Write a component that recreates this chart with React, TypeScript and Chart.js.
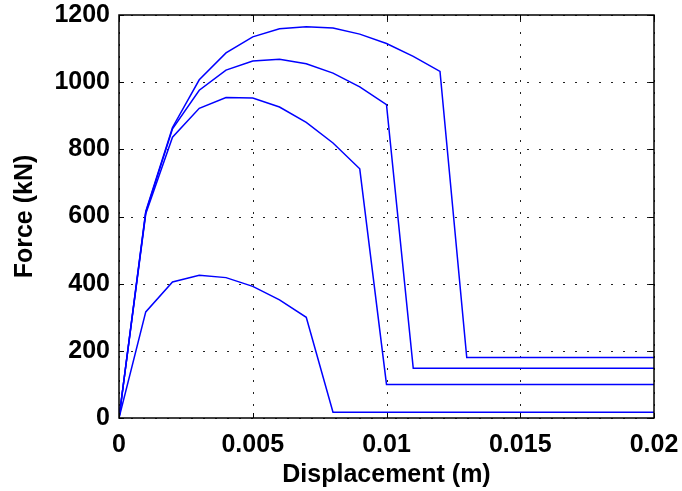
import React, { useEffect, useRef } from 'react';
import { Chart, registerables } from 'chart.js';

Chart.register(...registerables);

// ---- data ----
const dispA = [0, 0.001, 0.002, 0.003, 0.004, 0.005, 0.006, 0.007, 0.008, 0.009, 0.01, 0.011, 0.012, 0.013, 0.02];
const forceA = [0, 615, 865, 1007, 1087, 1135, 1159, 1165, 1161, 1143, 1115, 1077, 1032, 180, 180];

const dispB = [0, 0.001, 0.002, 0.003, 0.004, 0.005, 0.006, 0.007, 0.008, 0.009, 0.01, 0.011, 0.02];
const forceB = [0, 612, 861, 976, 1036, 1063, 1068, 1055, 1027, 986, 933, 148, 148];

const dispC = [0, 0.001, 0.002, 0.003, 0.004, 0.005, 0.006, 0.007, 0.008, 0.009, 0.01, 0.02];
const forceC = [0, 608, 836, 922, 954, 953, 926, 880, 819, 742, 100, 100];

const dispD = [0, 0.001, 0.002, 0.003, 0.004, 0.005, 0.006, 0.007, 0.008, 0.02];
const forceD = [0, 316, 405, 425, 418, 392, 352, 300, 17, 17];

const xTickValues = [0, 0.005, 0.01, 0.015, 0.02];
const xTickLabels = ['0', '0.005', '0.01', '0.015', '0.02'];
const yTickValues = [0, 200, 400, 600, 800, 1000, 1200];
const yTickLabels = ['0', '200', '400', '600', '800', '1000', '1200'];

const xTitle = 'Displacement (m)';
const yTitle = 'Force (kN)';

const FONT = { family: 'Liberation Sans, Arial, Helvetica, sans-serif', size: 25, weight: 'bold' as const };

const toPoints = (xs: number[], ys: number[]) => xs.map((x, i) => ({ x, y: ys[i] }));

const zeroPad = (s: any) => {
  s.paddingTop = 0;
  s.paddingBottom = 0;
  s.paddingLeft = 0;
  s.paddingRight = 0;
};

const matlabAxes = {
  id: 'matlabAxes',
  beforeDatasetsDraw(chart: any) {
    const { ctx, chartArea, scales } = chart;
    const { left, right, top, bottom } = chartArea;
    ctx.save();
    ctx.strokeStyle = '#222';
    ctx.lineWidth = 1;
    ctx.setLineDash([2, 10]);
    for (const v of xTickValues) {
      const px = Math.round(scales.x.getPixelForValue(v)) + 0.5;
      ctx.beginPath();
      ctx.moveTo(px, bottom);
      ctx.lineTo(px, top);
      ctx.stroke();
    }
    for (const v of yTickValues) {
      const py = Math.round(scales.y.getPixelForValue(v)) + 0.5;
      ctx.beginPath();
      ctx.moveTo(left, py);
      ctx.lineTo(right, py);
      ctx.stroke();
    }
    ctx.restore();
  },
  afterDatasetsDraw(chart: any) {
    const { ctx, chartArea, scales } = chart;
    const { left, right, top, bottom } = chartArea;
    const tl = 5;
    ctx.save();
    ctx.setLineDash([]);
    ctx.strokeStyle = '#000';
    ctx.lineWidth = 1.5;
    ctx.strokeRect(left, top, right - left, bottom - top);
    ctx.lineWidth = 1;
    ctx.beginPath();
    for (const v of xTickValues) {
      const px = Math.round(scales.x.getPixelForValue(v)) + 0.5;
      ctx.moveTo(px, bottom);
      ctx.lineTo(px, bottom - tl);
      ctx.moveTo(px, top);
      ctx.lineTo(px, top + tl);
    }
    for (const v of yTickValues) {
      const py = Math.round(scales.y.getPixelForValue(v)) + 0.5;
      ctx.moveTo(left, py);
      ctx.lineTo(left + tl, py);
      ctx.moveTo(right, py);
      ctx.lineTo(right - tl, py);
    }
    ctx.stroke();
    ctx.restore();
  },
};

export default function App() {
  const canvasRef = useRef<HTMLCanvasElement | null>(null);

  useEffect(() => {
    document.body.style.margin = '0';
    const canvas = canvasRef.current;
    if (!canvas) return;
    const mk = (xs: number[], ys: number[]) => ({
      data: toPoints(xs, ys),
      borderColor: '#0000ff',
      backgroundColor: '#0000ff',
      borderWidth: 1.5,
      pointRadius: 0,
      tension: 0,
      fill: false,
    });
    const chart = new Chart(canvas, {
      type: 'line',
      data: {
        datasets: [mk(dispA, forceA), mk(dispB, forceB), mk(dispC, forceC), mk(dispD, forceD)],
      },
      options: {
        animation: false,
        responsive: false,
        maintainAspectRatio: false,
        devicePixelRatio: 1,
        layout: { padding: { left: 0, right: 28, top: 15, bottom: 0 } },
        plugins: { legend: { display: false }, tooltip: { enabled: false }, title: { display: false } },
        scales: {
          x: {
            type: 'linear',
            min: 0,
            max: 0.02,
            afterBuildTicks: (s: any) => {
              s.ticks = xTickValues.map((v) => ({ value: v }));
            },
            afterFit: (s: any) => {
              s.height = 73;
              zeroPad(s);
            },
            ticks: {
              autoSkip: false,
              maxRotation: 0,
              color: '#000',
              font: FONT,
              padding: 12,
              callback: (v: any) => {
                const i = xTickValues.findIndex((t) => Math.abs(t - Number(v)) < 1e-9);
                return i >= 0 ? xTickLabels[i] : '';
              },
            },
            grid: { display: false, drawTicks: false },
            border: { display: false },
            title: { display: true, text: xTitle, color: '#000', font: FONT, padding: { top: 0, bottom: 1 } },
          },
          y: {
            type: 'linear',
            min: 0,
            max: 1200,
            afterBuildTicks: (s: any) => {
              s.ticks = yTickValues.map((v) => ({ value: v }));
            },
            afterFit: (s: any) => {
              s.width = 119;
              zeroPad(s);
            },
            ticks: {
              autoSkip: false,
              color: '#000',
              font: FONT,
              padding: 9,
              callback: (v: any) => {
                const i = yTickValues.indexOf(Number(v));
                return i >= 0 ? yTickLabels[i] : '';
              },
            },
            grid: { display: false, drawTicks: false },
            border: { display: false },
            title: { display: true, text: yTitle, color: '#000', font: FONT, padding: { top: 10, bottom: 0 } },
          },
        },
      },
      plugins: [matlabAxes],
    } as any);
    return () => chart.destroy();
  }, []);

  return (
    <div style={{ width: 682, height: 491, background: '#fff' }}>
      <canvas ref={canvasRef} width={682} height={491} style={{ display: 'block' }} />
    </div>
  );
}
